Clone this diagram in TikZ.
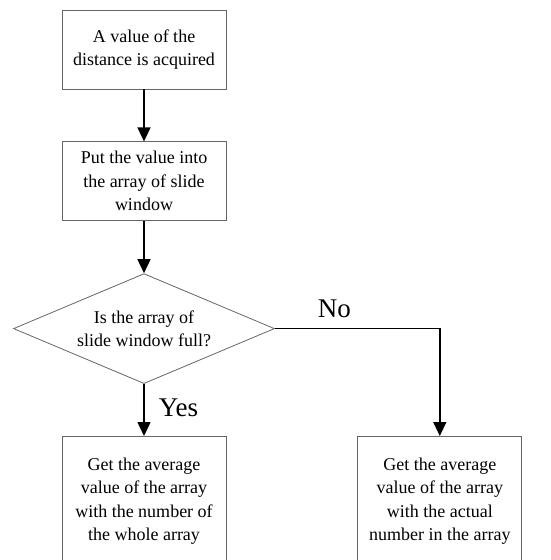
\documentclass[tikz,border=0pt]{standalone}
\usepackage{fontspec}
\setmainfont{Liberation Serif}
\usetikzlibrary{positioning}
\usetikzlibrary{shapes.geometric}
\usetikzlibrary{arrows.meta}
\tikzset{proc/.style={rectangle, draw=gray!80!black, line width=0.8pt, fill=white,
minimum width=164pt, minimum height=79pt, inner sep=2pt, align=center,
font=\fontsize{18}{23.5}\selectfont},
decide/.style={proc, diamond, aspect=2.37, minimum width=261pt, minimum height=110pt, inner sep=0pt},
tall/.style={proc, minimum height=130pt},
answer/.style={font=\fontsize{27}{30}\selectfont, inner sep=0pt},
flow/.style={->, black, line width=1.5pt},
>={Triangle[width=13pt,length=14pt]}}
\begin{document}
\begin{tikzpicture}[x=1pt,y=1pt]
  \path [use as bounding box, clip] (0,0) rectangle (550,-560);
  \node (acq) [proc] at (144,-49.5) {A value of the\\distance is acquired};
  \node (put) [proc, below=52pt of acq] {Put the value into\\the array of slide\\window};
  \node (full) [decide, below=52pt of put] {Is the array of\\slide window full?};
  \node (whole) [tall, below=52pt of full] {Get the average\\value of the array\\with the number of\\the whole array};
  \node (actual) [tall, right=131pt of whole] {Get the average\\value of the array\\with the actual\\number in the array};
  \draw [flow] (acq) -- (put);
  \draw [flow] (put) -- (full);
  \draw [flow] (full) -- node [answer, right=14pt, pos=0.45] {Yes} (whole);
  \draw [flow] (full.east) -| node [answer, above=10pt, pos=0.18] {No} (actual);
\end{tikzpicture}
\end{document}
